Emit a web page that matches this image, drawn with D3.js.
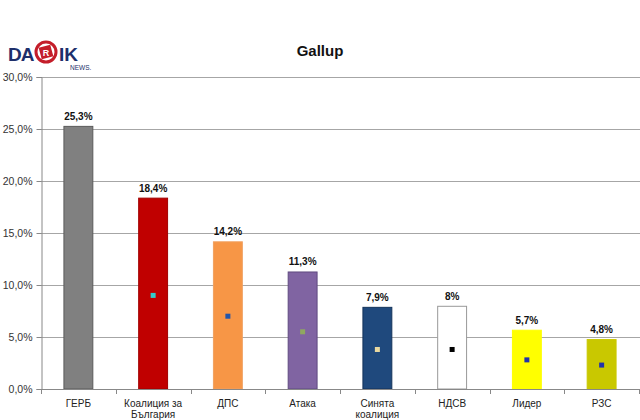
<!DOCTYPE html>
<html>
<head>
<meta charset="utf-8">
<script src="https://cdn.jsdelivr.net/npm/d3@7"></script>
<style>
  body { margin: 0; background: #fff; }
  svg { display: block; font-family: "Liberation Sans", Arial, sans-serif; }
</style>
</head>
<body>
<svg id="chart"></svg>
<script>
// data
const parties = ["ГЕРБ", "Коалиция за|България", "ДПС", "Атака", "Синята|коалиция", "НДСВ", "Лидер", "РЗС"]
const values = [25.3, 18.4, 14.2, 11.3, 7.9, 8, 5.7, 4.8]
const valueLabels = ["25,3%", "18,4%", "14,2%", "11,3%", "7,9%", "8%", "5,7%", "4,8%"]
const markerValues = [null, 9.0, 7.0, 5.5, 3.8, 3.8, 2.8, 2.3]
const yTicks = [0, 5, 10, 15, 20, 25, 30]
const yTickLabels = ["0,0%", "5,0%", "10,0%", "15,0%", "20,0%", "25,0%", "30,0%"]

const barColors = ["#808080", "#c00000", "#f79646", "#8064a2", "#1f497d", "#ffffff", "#ffff00", "#c9c800"]
const barStrokes = ["#5a5a5a", "#a00000", "#f0a060", "#5f4a80", "#14335a", "#999999", "#ffff00", "#c9c800"]
const markerColors = [null, "#33cccc", "#2255aa", "#8fa860", "#ead9a0", "#000000", "#2233aa", "#2233aa"]

var width = 640, height = 420
var margin = {top: 77, right: 1, bottom: 31, left: 41}

var svg = d3.select("#chart")
    .attr("width", width)
    .attr("height", height)

var data = parties.map(function(p, i){
    return {name: p, value: values[i], label: valueLabels[i], marker: markerValues[i], i: i}
})

var x = d3.scaleBand()
    .domain(parties)
    .range([margin.left, width - margin.right])
    .paddingInner(0.6)
    .paddingOuter(0.3)

var y = d3.scaleLinear()
    .domain([0, 30])
    .range([height - margin.bottom, margin.top])

// gridlines
svg.append("g")
    .selectAll("line")
    .data(yTicks.slice(1))
    .join("line")
    .attr("x1", margin.left)
    .attr("x2", width)
    .attr("y1", function(d){ return y(d) + 0.5 })
    .attr("y2", function(d){ return y(d) + 0.5 })
    .attr("stroke", "#a6a6a6")
    .attr("stroke-width", 1)

// y axis
var yAxis = svg.append("g")
    .attr("transform", "translate(" + (margin.left + 0.5) + ",0)")
    .call(d3.axisLeft(y).tickValues(yTicks).tickSize(5).tickPadding(4)
        .tickFormat(function(d, i){ return yTickLabels[i] }))
yAxis.select(".domain").attr("stroke", "#888")
yAxis.selectAll(".tick line").attr("stroke", "#888")
yAxis.selectAll("text").attr("font-size", 10.5).attr("fill", "#333")
    .attr("font-family", "Liberation Sans, Arial, sans-serif")

// bars
svg.append("g")
    .selectAll("rect")
    .data(data)
    .join("rect")
    .attr("x", function(d){ return x(d.name) + 0.5 })
    .attr("y", function(d){ return y(d.value) + 0.5 })
    .attr("width", x.bandwidth() - 1)
    .attr("height", function(d){ return y(0) - y(d.value) - 0.5 })
    .attr("fill", function(d){ return barColors[d.i] })
    .attr("stroke", function(d){ return barStrokes[d.i] })
    .attr("stroke-width", 1)

// little markers in the bars
svg.append("g")
    .selectAll("rect")
    .data(data.filter(function(d){ return d.marker != null }))
    .join("rect")
    .attr("x", function(d){ return x(d.name) + x.bandwidth() / 2 - 2.5 })
    .attr("y", function(d){ return y(d.marker) - 2.5 })
    .attr("width", 5)
    .attr("height", 5)
    .attr("fill", function(d){ return markerColors[d.i] })

// value labels
svg.append("g")
    .selectAll("text")
    .data(data)
    .join("text")
    .attr("x", function(d){ return x(d.name) + x.bandwidth() / 2 })
    .attr("y", function(d){ return y(d.value) - 6 })
    .attr("text-anchor", "middle")
    .attr("font-size", 10)
    .attr("font-weight", "bold")
    .attr("fill", "#111")
    .text(function(d){ return d.label })

// x axis
var step = x.step()
var xg = svg.append("g")
xg.append("line")
    .attr("x1", margin.left)
    .attr("x2", width)
    .attr("y1", y(0) + 0.5)
    .attr("y2", y(0) + 0.5)
    .attr("stroke", "#888")
xg.selectAll(".tk")
    .data(d3.range(parties.length + 1))
    .join("line")
    .attr("class", "tk")
    .attr("x1", function(k){ return Math.round(margin.left + k * step) + 0.5 })
    .attr("x2", function(k){ return Math.round(margin.left + k * step) + 0.5 })
    .attr("y1", y(0))
    .attr("y2", y(0) + 5)
    .attr("stroke", "#888")

var labels = xg.selectAll(".lbl")
    .data(data)
    .join("text")
    .attr("class", "lbl")
    .attr("text-anchor", "middle")
    .attr("font-size", 10)
    .attr("fill", "#222")
labels.each(function(d){
    var lines = d.name.split("|")
    var t = d3.select(this)
    lines.forEach(function(l, j){
        t.append("tspan")
            .attr("x", x(d.name) + x.bandwidth() / 2)
            .attr("y", 407 + j * 10.5)
            .text(l)
    })
})

// title
svg.append("text")
    .attr("x", 320)
    .attr("y", 56)
    .attr("text-anchor", "middle")
    .attr("font-size", 15)
    .attr("font-weight", "bold")
    .attr("fill", "#111")
    .text("Gallup")

// logo
var logo = svg.append("g")
logo.append("text")
    .attr("x", 8).attr("y", 61)
    .attr("font-size", 19).attr("font-weight", "bold")
    .attr("fill", "#1d2f6b")
    .attr("letter-spacing", -1)
    .text("DA")
logo.append("circle")
    .attr("cx", 46).attr("cy", 52).attr("r", 10)
    .attr("fill", "none").attr("stroke", "#c41e2a").attr("stroke-width", 3)
logo.append("rect")
    .attr("x", 40).attr("y", 46).attr("width", 12).attr("height", 12)
    .attr("fill", "#c41e2a").attr("transform", "rotate(-15,46,52)")
logo.append("text")
    .attr("x", 46).attr("y", 55.5).attr("text-anchor", "middle")
    .attr("font-size", 9).attr("font-weight", "bold").attr("fill", "#fff")
    .text("R")
logo.append("text")
    .attr("x", 59).attr("y", 61)
    .attr("font-size", 19).attr("font-weight", "bold")
    .attr("fill", "#1d2f6b")
    .text("IK")
logo.append("text")
    .attr("x", 70).attr("y", 70)
    .attr("font-size", 6.5)
    .attr("fill", "#1d2f6b")
    .text("NEWS.")
</script>
</body>
</html>
